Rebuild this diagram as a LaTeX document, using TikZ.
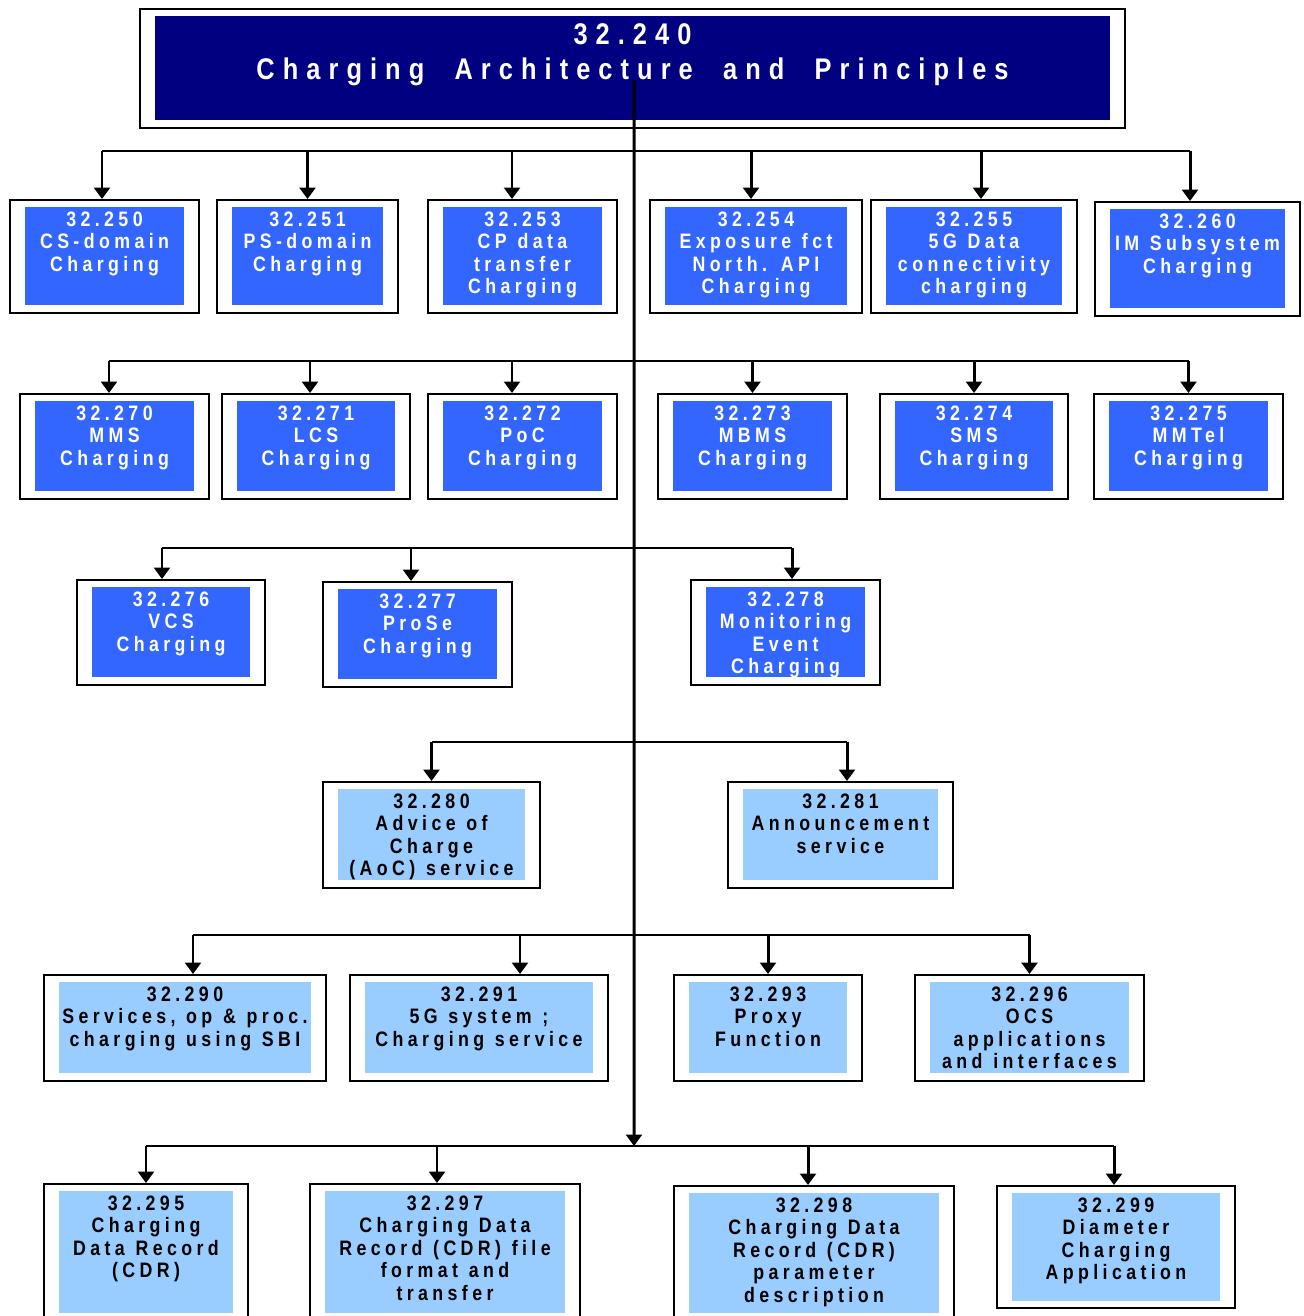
\documentclass[tikz,border=0pt]{standalone}
\usepackage{fontspec}
\setmainfont{Liberation Sans}[FakeStretch=0.85,LetterSpace=21,WordSpace=1.15]
\newfontfamily\titlefont{Liberation Sans}[FakeStretch=0.85,LetterSpace=27]
\usetikzlibrary{arrows.meta}
\definecolor{navy}{HTML}{000080}
\definecolor{specblue}{HTML}{3366FF}
\definecolor{speclight}{HTML}{99CCFF}
\tikzset{
  frame/.style={draw, line width=1.1pt, fill=white, inner sep=0pt,
    path picture={\fill[#1] ([shift={(0.3cm,0.15cm)}]path picture bounding box.south west)
      rectangle ([shift={(-0.3cm,-0.15cm)}]path picture bounding box.north east);}},
  boxtext/.style={anchor=north, yshift=-0.25cm, inner sep=0pt, align=center,
    font=\bfseries\fontsize{11.9}{12.8}\selectfont},
  dark/.style={frame=specblue, label={[boxtext, text=white]north:{#1}}},
  light/.style={frame=speclight, label={[boxtext, text=black]north:{#1}}},
  titletext/.style={anchor=north, yshift=-0.3cm, inner sep=0pt, align=center, text=white,
    font=\titlefont\bfseries\fontsize{17}{19.9}\selectfont},
  bus/.style={line width=0.8pt},
  link/.style={line width=1.7pt, -{Triangle[width=9pt,length=6.5pt]}}
}

\begin{document}
\begin{tikzpicture}
\useasboundingbox (0,0) rectangle (26.06,26.32);

\node [frame=navy, line width=0.8pt, minimum width=19.7cm, minimum height=2.38cm,
  label={[titletext]north:{32.240\\Charging\ \ Architecture\ \ and\ \ Principles}}] (top) at (12.65,24.95) {};

\node [dark={32.250\\CS-domain\\Charging}, minimum width=3.78cm, minimum height=2.26cm] (s250) at (2.09,21.19) {};
\node [dark={32.251\\PS-domain\\Charging}, minimum width=3.62cm, minimum height=2.26cm] (s251) at (6.15,21.19) {};
\node [dark={32.253\\CP data\\transfer\\Charging}, minimum width=3.78cm, minimum height=2.26cm] (s253) at (10.45,21.19) {};
\node [dark={32.254\\Exposure fct\\North. API\\Charging}, minimum width=4.24cm, minimum height=2.26cm] (s254) at (15.12,21.19) {};
\node [dark={32.255\\5G Data\\connectivity\\charging}, minimum width=4.12cm, minimum height=2.26cm] (s255) at (19.48,21.19) {};
\node [dark={32.260\\IM Subsystem\\Charging}, minimum width=4.10cm, minimum height=2.28cm] (s260) at (23.95,21.14) {};

\node [dark={32.270\\MMS\\Charging}, minimum width=3.78cm, minimum height=2.10cm] (s270) at (2.29,17.39) {};
\node [dark={32.271\\LCS\\Charging}, minimum width=3.76cm, minimum height=2.10cm] (s271) at (6.32,17.39) {};
\node [dark={32.272\\PoC\\Charging}, minimum width=3.78cm, minimum height=2.10cm] (s272) at (10.45,17.39) {};
\node [dark={32.273\\MBMS\\Charging}, minimum width=3.78cm, minimum height=2.10cm] (s273) at (15.05,17.39) {};
\node [dark={32.274\\SMS\\Charging}, minimum width=3.76cm, minimum height=2.10cm] (s274) at (19.48,17.39) {};
\node [dark={32.275\\MMTel\\Charging}, minimum width=3.78cm, minimum height=2.10cm] (s275) at (23.77,17.39) {};

\node [dark={32.276\\VCS\\Charging}, minimum width=3.76cm, minimum height=2.10cm] (s276) at (3.42,13.67) {};
\node [dark={32.277\\ProSe\\Charging}, minimum width=3.78cm, minimum height=2.10cm] (s277) at (8.35,13.63) {};
\node [dark={32.278\\Monitoring\\Event\\Charging}, minimum width=3.78cm, minimum height=2.10cm] (s278) at (15.71,13.67) {};

\node [light={32.280\\Advice of\\Charge\\(AoC) service}, minimum width=4.34cm, minimum height=2.12cm] (s280) at (8.63,9.62) {};
\node [light={32.281\\Announcement\\service}, minimum width=4.50cm, minimum height=2.12cm] (s281) at (16.81,9.62) {};

\node [light={32.290\\Services, op \& proc.\\charging using SBI}, minimum width=5.64cm, minimum height=2.12cm] (s290) at (3.70,5.76) {};
\node [light={32.291\\5G system ;\\Charging service}, minimum width=5.16cm, minimum height=2.12cm] (s291) at (9.58,5.76) {};
\node [light={32.293\\Proxy\\Function}, minimum width=3.76cm, minimum height=2.12cm] (s293) at (15.36,5.76) {};
\node [light={32.296\\OCS\\applications\\and interfaces}, minimum width=4.58cm, minimum height=2.12cm] (s296) at (20.59,5.76) {};

\node [light={32.295\\Charging\\Data Record\\(CDR)}, minimum width=4.08cm, minimum height=2.72cm] (s295) at (2.92,1.28) {};
\node [light={32.297\\Charging Data\\Record (CDR) file\\format and\\transfer}, minimum width=5.40cm, minimum height=2.72cm] (s297) at (8.90,1.28) {};
\node [light={32.298\\Charging Data\\Record (CDR)\\parameter\\description}, minimum width=5.60cm, minimum height=2.68cm] (s298) at (16.28,1.26) {};
\node [light={32.299\\Diameter\\Charging\\Application}, minimum width=4.76cm, minimum height=2.44cm] (s299) at (22.32,1.38) {};

\coordinate (hub1) at (12.68,23.30);
\coordinate (hub2) at (12.68,19.10);
\coordinate (hub3) at (12.68,15.36);
\coordinate (hub4) at (12.68,11.48);
\coordinate (hub5) at (12.68,7.62);
\coordinate (hub6) at (12.68,3.40);

\draw [link] ([xshift=0.03cm,yshift=-0.23cm]top.center) -- (hub6);

\draw [bus] ([xshift=-0.05cm]s250.north |- hub1) -- ([xshift=-0.15cm]s260.north |- hub1);
\draw [link] ([xshift=-0.05cm]s250.north |- hub1) -- ([xshift=-0.05cm]s250.north);
\draw [link] (s251.north |- hub1) -- (s251.north);
\draw [link] ([xshift=-0.21cm]s253.north |- hub1) -- ([xshift=-0.21cm]s253.north);
\draw [link] ([xshift=-0.1cm]s254.north |- hub1) -- ([xshift=-0.1cm]s254.north);
\draw [link] ([xshift=0.14cm]s255.north |- hub1) -- ([xshift=0.14cm]s255.north);
\draw [link] ([xshift=-0.15cm]s260.north |- hub1) -- ([xshift=-0.15cm]s260.north);

\draw [bus] ([xshift=-0.11cm]s270.north |- hub2) -- (s275.north |- hub2);
\draw [link] ([xshift=-0.11cm]s270.north |- hub2) -- ([xshift=-0.11cm]s270.north);
\draw [link] ([xshift=-0.12cm]s271.north |- hub2) -- ([xshift=-0.12cm]s271.north);
\draw [link] ([xshift=-0.21cm]s272.north |- hub2) -- ([xshift=-0.21cm]s272.north);
\draw [link] (s273.north |- hub2) -- (s273.north);
\draw [link] (s274.north |- hub2) -- (s274.north);
\draw [link] (s275.north |- hub2) -- (s275.north);

\draw [bus] ([xshift=-0.18cm]s276.north |- hub3) -- ([xshift=0.13cm]s278.north |- hub3);
\draw [link] ([xshift=-0.18cm]s276.north |- hub3) -- ([xshift=-0.18cm]s276.north);
\draw [link] ([xshift=-0.13cm]s277.north |- hub3) -- ([xshift=-0.13cm]s277.north);
\draw [link] ([xshift=0.13cm]s278.north |- hub3) -- ([xshift=0.13cm]s278.north);

\draw [bus] (s280.north |- hub4) -- ([xshift=0.13cm]s281.north |- hub4);
\draw [link] (s280.north |- hub4) -- (s280.north);
\draw [link] ([xshift=0.13cm]s281.north |- hub4) -- ([xshift=0.13cm]s281.north);

\draw [bus] ([xshift=0.16cm]s290.north |- hub5) -- (s296.north |- hub5);
\draw [link] ([xshift=0.16cm]s290.north |- hub5) -- ([xshift=0.16cm]s290.north);
\draw [link] ([xshift=0.82cm]s291.north |- hub5) -- ([xshift=0.82cm]s291.north);
\draw [link] (s293.north |- hub5) -- (s293.north);
\draw [link] (s296.north |- hub5) -- (s296.north);

\draw [bus] (s295.north |- hub6) -- ([xshift=-0.04cm]s299.north |- hub6);
\draw [link] (s295.north |- hub6) -- (s295.north);
\draw [link] ([xshift=-0.16cm]s297.north |- hub6) -- ([xshift=-0.16cm]s297.north);
\draw [link] ([xshift=-0.12cm]s298.north |- hub6) -- ([xshift=-0.12cm]s298.north);
\draw [link] ([xshift=-0.04cm]s299.north |- hub6) -- ([xshift=-0.04cm]s299.north);
\end{tikzpicture}
\end{document}
